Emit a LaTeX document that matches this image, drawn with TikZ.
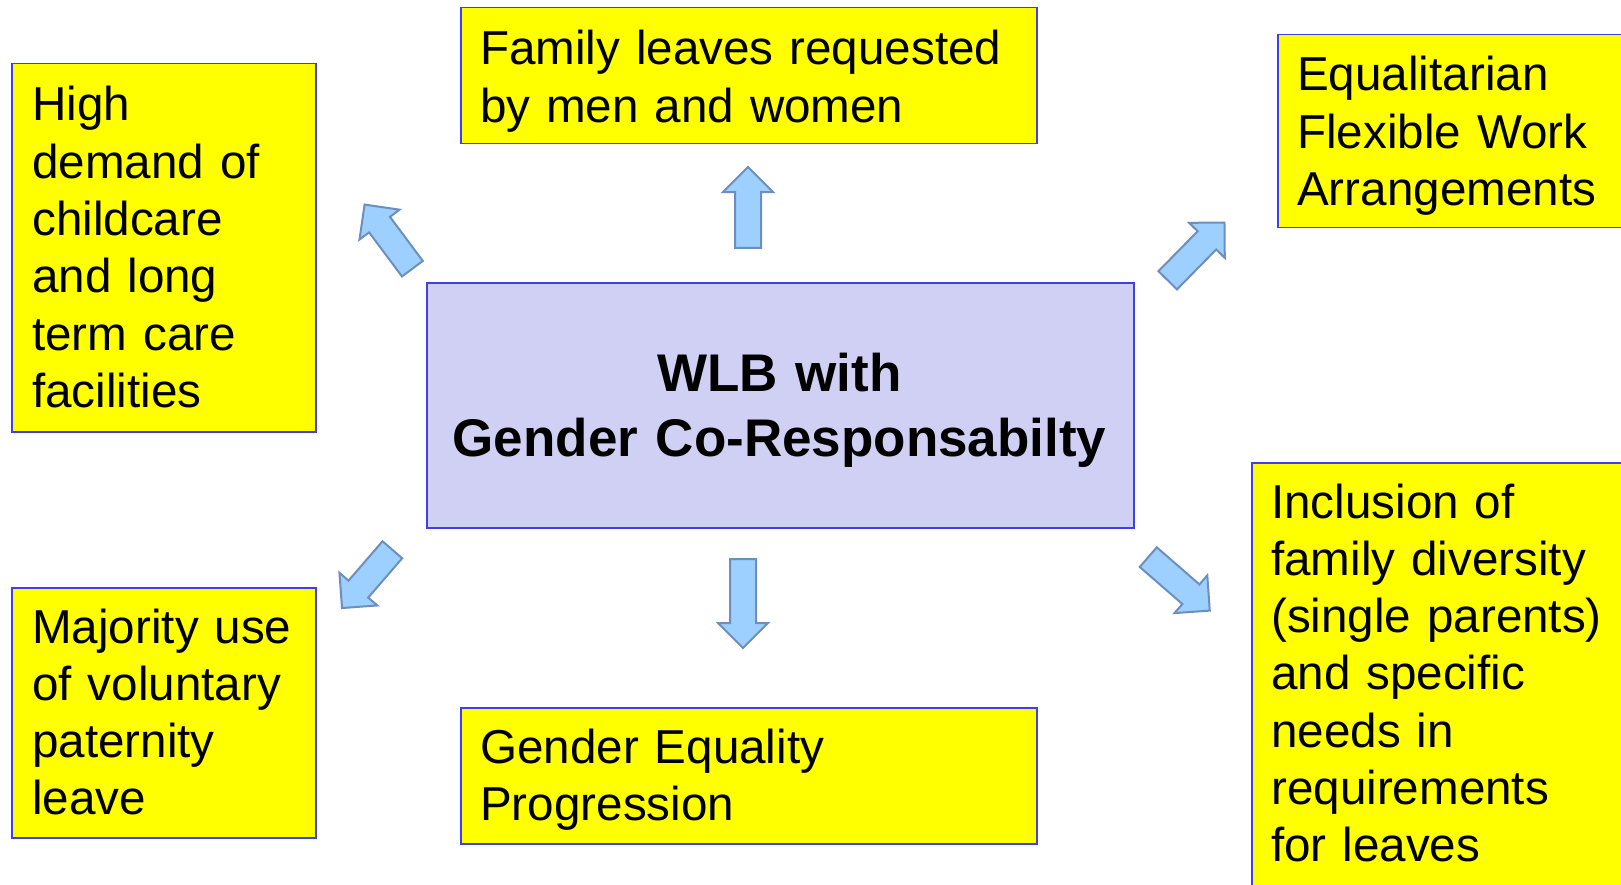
\documentclass[tikz,border=0pt]{standalone}
\usepackage{fontspec}
\setmainfont{Liberation Sans}
\usetikzlibrary{shapes.arrows}
\definecolor{boxyellow}{RGB}{255,255,0}
\definecolor{boxborder}{RGB}{64,64,230}
\definecolor{centerfill}{RGB}{208,208,244}
\definecolor{arrowfill}{RGB}{157,207,255}
\definecolor{arrowborder}{RGB}{108,143,190}
\begin{document}
\begin{tikzpicture}[x=1pt,y=-1pt,
  ybox/.style={draw=boxborder, fill=boxyellow, line width=1.5pt, inner sep=0pt, anchor=north west},
  cbox/.style={draw=boxborder, fill=centerfill, line width=1.5pt, inner sep=0pt, anchor=north west},
  txt/.style={anchor=base west, text width=600pt, align=left, inner sep=0pt, font=\fontsize{47.6}{57.3}\selectfont},
  ctxt/.style={anchor=base, text width=700pt, align=center, inner sep=0pt, font=\fontsize{53}{65}\selectfont\bfseries},
  barrow/.style={single arrow, draw=arrowborder, fill=arrowfill, line width=2pt,
    inner xsep=0pt, inner ysep=12pt, single arrow head extend=12pt,
    single arrow tip angle=90, minimum width=0pt, anchor=tail}
]
\useasboundingbox (0,0) rectangle (1621,885);
\fill[white] (0,0) rectangle (1621,885);

% boxes
\node[ybox, minimum width=304pt, minimum height=368pt] (btl) at (11,63) {};
\node[ybox, minimum width=576pt, minimum height=136pt] (btop) at (460,7) {};
\node[ybox, minimum width=360pt, minimum height=193pt] (btr) at (1277,34) {};
\node[cbox, minimum width=707pt, minimum height=245pt] (bc) at (426,282) {};
\node[ybox, minimum width=304pt, minimum height=250pt] (bbl) at (11,587) {};
\node[ybox, minimum width=576pt, minimum height=136pt] (bbot) at (460,707) {};
\node[ybox, minimum width=380pt, minimum height=440pt] (bbr) at (1251,462) {};

% texts
\node[txt] (ttl) at (32,121) {High\\demand of\\childcare\\and long\\term care\\facilities};
\node[txt] (ttop) at (480,65) {Family leaves requested\\by men and women};
\node[txt] (ttr) at (1297,91) {Equalitarian\\Flexible Work\\Arrangements};
\node[ctxt] (tc) at (779.5,391) {WLB with\\Gender Co-Responsabilty};
\node[txt] (tbl) at (32,643) {Majority use\\of voluntary\\paternity\\leave};
\node[txt] (tbot) at (480,763) {Gender Equality\\Progression};
\node[txt] (tbr) at (1271,518) {Inclusion of\\family diversity\\(single parents)\\and specific\\needs in\\requirements\\for leaves};

% block arrows
\node[barrow, minimum height=81pt, rotate=90] (aup) at (748,249) {};
\node[barrow, minimum height=89pt, rotate=-90] (adown) at (743,558) {};
\node[barrow, minimum height=80pt, rotate=126.7] (aul) at (413,269.5) {};
\node[barrow, minimum height=81pt, rotate=45.5] (aur) at (1167,281) {};
\node[barrow, minimum height=77pt, rotate=229.2] (adl) at (393,549) {};
\node[barrow, minimum height=81.5pt, rotate=-41] (adr) at (1147.5,556.5) {};
\end{tikzpicture}
\end{document}
